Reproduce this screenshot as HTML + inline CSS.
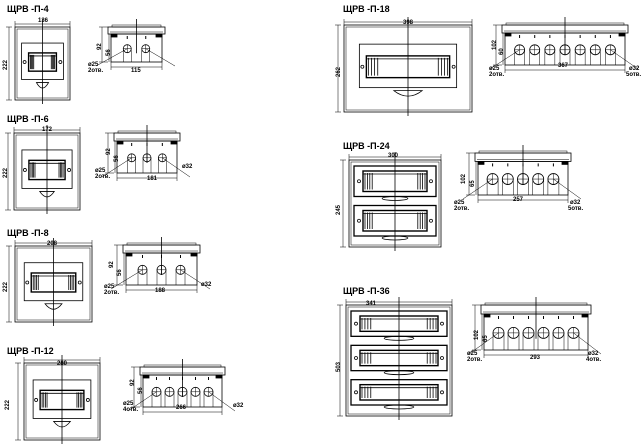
<!DOCTYPE html>
<html><head><meta charset="utf-8"><style>
html,body{margin:0;padding:0;background:#fff;width:644px;height:445px;overflow:hidden}
svg text{font-family:"Liberation Sans","DejaVu Sans",sans-serif;font-weight:bold;fill:#000}
.t{font-size:9px}.d{font-size:6px}
</style></head><body>
<svg id="s" width="644" height="445" viewBox="0 0 644 445" xmlns="http://www.w3.org/2000/svg">
<g id="g" fill="none" stroke="#000" stroke-width="0.8"></g>
<text class="t" x="7" y="12">ЩРВ -П-4</text>
<text class="d" x="38" y="22">136</text>
<text class="d" transform="translate(7,70) rotate(-90)">222</text>
<text class="d" transform="translate(101,50) rotate(-90)">92</text>
<text class="d" transform="translate(110,56) rotate(-90)">56</text>
<text class="d" x="131" y="72">115</text>
<text class="d" x="88" y="66">ø25</text><text class="d" x="88" y="72">2отв.</text>

<text class="t" x="7" y="122">ЩРВ -П-6</text>
<text class="d" x="42" y="131">172</text>
<text class="d" transform="translate(7,178) rotate(-90)">222</text>
<text class="d" transform="translate(110,155) rotate(-90)">92</text>
<text class="d" transform="translate(118,162) rotate(-90)">56</text>
<text class="d" x="147" y="180">181</text>
<text class="d" x="95" y="172">ø25</text><text class="d" x="95" y="178">2отв.</text>
<text class="d" x="182" y="168">ø32</text>

<text class="t" x="7" y="236">ЩРВ -П-8</text>
<text class="d" x="47" y="245">208</text>
<text class="d" transform="translate(7,292) rotate(-90)">222</text>
<text class="d" transform="translate(113,268) rotate(-90)">92</text>
<text class="d" transform="translate(121,276) rotate(-90)">56</text>
<text class="d" x="155" y="292">188</text>
<text class="d" x="104" y="288">ø25</text><text class="d" x="104" y="294">2отв.</text>
<text class="d" x="201" y="286">ø32</text>

<text class="t" x="7" y="354">ЩРВ -П-12</text>
<text class="d" x="57" y="365">280</text>
<text class="d" transform="translate(9,410) rotate(-90)">222</text>
<text class="d" transform="translate(134,386) rotate(-90)">92</text>
<text class="d" transform="translate(142,394) rotate(-90)">56</text>
<text class="d" x="176" y="409">266</text>
<text class="d" x="123" y="405">ø25</text><text class="d" x="123" y="411">4отв.</text>
<text class="d" x="233" y="407">ø32</text>

<text class="t" x="343" y="12">ЩРВ -П-18</text>
<text class="d" x="403" y="24">398</text>
<text class="d" transform="translate(340,77) rotate(-90)">262</text>
<text class="d" transform="translate(496,50) rotate(-90)">102</text>
<text class="d" transform="translate(503,55) rotate(-90)">60</text>
<text class="d" x="558" y="67">367</text>
<text class="d" x="489" y="70">ø25</text><text class="d" x="489" y="76">2отв.</text>
<text class="d" x="629" y="70">ø32</text><text class="d" x="626" y="76">5отв.</text>

<text class="t" x="343" y="149">ЩРВ -П-24</text>
<text class="d" x="388" y="157">300</text>
<text class="d" transform="translate(340,215) rotate(-90)">245</text>
<text class="d" transform="translate(465,184) rotate(-90)">102</text>
<text class="d" transform="translate(474,187) rotate(-90)">65</text>
<text class="d" x="513" y="201">257</text>
<text class="d" x="454" y="204">ø25</text><text class="d" x="454" y="210">2отв.</text>
<text class="d" x="570" y="204">ø32</text><text class="d" x="568" y="210">5отв.</text>

<text class="t" x="343" y="294">ЩРВ -П-36</text>
<text class="d" x="366" y="305">341</text>
<text class="d" transform="translate(340,372) rotate(-90)">503</text>
<text class="d" transform="translate(478,340) rotate(-90)">102</text>
<text class="d" transform="translate(487,342) rotate(-90)">65</text>
<text class="d" x="530" y="359">293</text>
<text class="d" x="467" y="355">ø25</text><text class="d" x="467" y="361">2отв.</text>
<text class="d" x="588" y="355">ø32</text><text class="d" x="586" y="361">4отв.</text>
</svg>
<script>
var g=document.getElementById('g'),h='';
function R(x,y,w,hh,sw,f){h+='<rect x="'+x+'" y="'+y+'" width="'+w+'" height="'+hh+'"'+(sw?' stroke-width="'+sw+'"':'')+(f?' fill="'+f+'"':'')+'/>';}
function L(a,b,c,d,sw){h+='<line x1="'+a+'" y1="'+b+'" x2="'+c+'" y2="'+d+'"'+(sw?' stroke-width="'+sw+'"':'')+'/>';}
function C(x,y,r){h+='<circle cx="'+x+'" cy="'+y+'" r="'+r+'"/>';}
function mod(x,y,w,hh){R(x,y,w,hh,1.4);var s=Math.min(w*0.15,14);for(var i=0;i<4;i++){L(x+2+i*s/4,y+2,x+2+i*s/4,y+hh-2);L(x+w-2-i*s/4,y+2,x+w-2-i*s/4,y+hh-2);}L(x,y+3,x+w,y+3);C(x-4,y+hh/2,1.5);C(x+w+4,y+hh/2,1.5);}
function front(x,y,w,hh,rows){
 R(x,y,w,hh);R(x+2,y+2,w-4,hh-4,0.5);
 if(rows==1){var ix=x+w*0.12,iw=w*0.76,iy=y+hh*0.22,ih=hh*0.5;R(ix,iy,iw,ih);mod(ix+7,iy+ih*0.27,iw-14,ih*0.5);
  h+='<path d="M'+(x+w/2-w*0.11)+' '+(iy+ih+3)+' Q'+(x+w/2)+' '+(iy+ih+14)+' '+(x+w/2+w*0.11)+' '+(iy+ih+3)+' Z"/>';}
 else{var rh=(hh-8)/rows;for(var r=0;r<rows;r++){var yy=y+4+r*rh;R(x+5,yy+2,w-10,rh-9,1.3);mod(x+14,yy+7,w-28,rh-19);
  h+='<ellipse cx="'+(x+w/2)+'" cy="'+(yy+rh-5)+'" rx="'+w*0.14+'" ry="2"/>';}}
 L(x+w/2,y-8,x+w/2,y+hh+4);
 L(x,y-3,x+w,y-3,0.5);L(x,y-6,x,y,0.5);L(x+w,y-6,x+w,y,0.5);
 L(x-6,y,x-6,y+hh,0.5);L(x-9,y,x-3,y,0.5);L(x-9,y+hh,x-3,y+hh,0.5);
}
function side(x,y,w,hh,n,hr){
 var ct=hh*0.2;R(x,y,w,ct);R(x+4,y-2,w-8,2,0.5);L(x+2,y+ct-2,x+w-2,y+ct-2,0.5);
 R(x+3,y+ct,w-6,hh-ct);R(x+3,y+ct,6,3,0,'#000');R(x+w-9,y+ct,6,3,0,'#000');
 var sp=(w-20)/n;for(var i=0;i<n;i++){var cx=x+10+sp*(i+0.5),cy=y+hh*0.62;C(cx,cy,hr);L(cx-hr,cy,cx+hr,cy,0.5);L(cx,cy-hr,cx,cy+hr,0.5);L(cx-hr,cy,cx-hr,y+hh,0.5);L(cx+hr,cy,cx+hr,y+hh,0.5);L(cx,y+ct+2,cx,y+ct+5,1);}
 L(x+w*0.5,y-8,x+w*0.5,y+hh*0.75);
 L(x+3,y+hh+5,x+w-3,y+hh+5,0.5);L(x+3,y+hh,x+3,y+hh+8,0.5);L(x+w-3,y+hh,x+w-3,y+hh+8,0.5);
 L(x-6,y,x-6,y+hh,0.5);L(x-9,y,x,y,0.5);L(x-9,y+hh,x,y+hh,0.5);L(x+1,y+ct,x+1,y+hh,0.5);
 L(x-12,y+hh+4,x+10+sp*0.5,y+hh*0.62,0.5);L(x+w+10,y+hh+4,x+10+sp*(n-0.5),y+hh*0.62,0.5);
}
front(15,27,55,73,1);side(108,27,57,35,2,4);
front(14,133,66,77,1);side(114,133,66,40,3,4);
front(15,246,77,76,1);side(123,245,77,40,3,4.5);
front(24,363,76,77,1);side(140,367,85,40,5,4.5);
front(344,25,128,87,1);side(502,25,126,40,7,5);
front(349,160,92,87,2);side(475,153,96,42,5,5.5);
front(346,305,106,111,3);side(481,305,110,45,6,5.5);
g.innerHTML=h;
</script>
</body></html>
